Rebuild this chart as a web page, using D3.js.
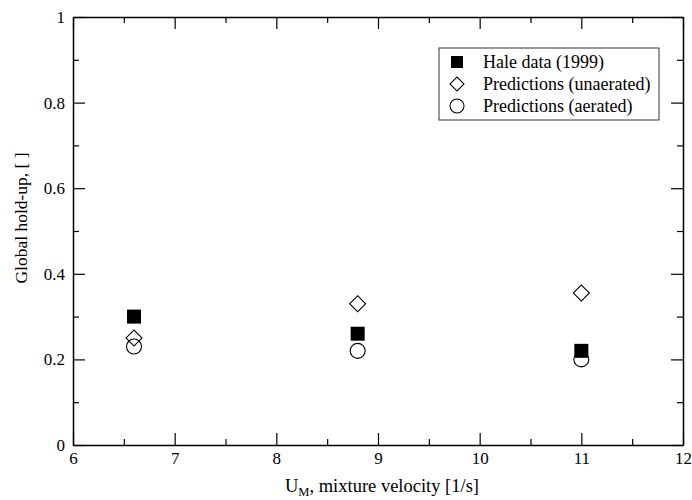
<!DOCTYPE html>
<html>
<head>
<meta charset="utf-8">
<script src="https://cdn.jsdelivr.net/npm/d3@7"></script>
<style>
  body { margin: 0; background: #fff; }
</style>
</head>
<body>
<svg id="chart"></svg>
<script>
// Data
const velocities = [6.6, 8.8, 11];
const haleData = [0.30, 0.26, 0.22];
const predUnaerated = [0.25, 0.33, 0.355];
const predAerated = [0.23, 0.22, 0.20];
const xTicks = [6, 7, 8, 9, 10, 11, 12];
const yTicks = [0, 0.2, 0.4, 0.6, 0.8, 1];
const legendLabels = ['Hale data (1999)', 'Predictions (unaerated)', 'Predictions (aerated)'];

const FONT = '"Liberation Serif", "DejaVu Serif", serif';
const width = 692, height = 500;
const margin = {top: 17, right: 9, bottom: 55, left: 73};
const w = width - margin.left - margin.right;
const h = height - margin.top - margin.bottom;

const svg = d3.select('#chart').attr('width', width).attr('height', height)
  .attr('font-family', FONT);
const chart = svg.append('g').attr('transform', `translate(${margin.left},${margin.top})`);

const x = d3.scaleLinear().domain([6, 12]).range([0, w]);
const y = d3.scaleLinear().domain([0, 1]).range([h, 0]);

// minor ticks every half unit / 0.1
const xMinor = d3.range(6.5, 12, 1);
const yMinor = d3.range(0.1, 1, 0.2);

function tickAxis(axisFn, scale, major, minor, transform, labels) {
  const g = chart.append('g').attr('transform', transform);
  g.call(axisFn(scale).tickValues(major).tickSizeInner(-12).tickSizeOuter(0)
    .tickFormat(labels ? d3.format('') : ''));
  g.append('g').call(axisFn(scale).tickValues(minor).tickSizeInner(-6).tickSizeOuter(0).tickFormat(''))
    .select('.domain').remove();
  g.attr('font-family', FONT);
  g.selectAll('.domain').attr('stroke', '#000').attr('stroke-width', 1.5);
  g.selectAll('.tick line').attr('stroke', '#000').attr('stroke-width', 1.2);
  g.selectAll('.tick text').attr('font-family', FONT).attr('font-size', 17).attr('fill', '#000');
  return g;
}

const xAxisG = tickAxis(d3.axisBottom, x, xTicks, xMinor, `translate(0,${h})`, true);
xAxisG.selectAll('.tick text').attr('dy', '1.05em').attr('y', 1);
tickAxis(d3.axisTop, x, xTicks, xMinor, 'translate(0,0)', false);

const yAxisG = tickAxis(d3.axisLeft, y, yTicks, yMinor, 'translate(0,0)', true);
yAxisG.selectAll('.tick text').attr('x', -8).attr('dy', '0.32em');
tickAxis(d3.axisRight, y, yTicks, yMinor, `translate(${w},0)`, false);

const diamond = d3.symbol().type(d3.symbolSquare).size(128);

// Hale data: filled squares
chart.selectAll('.hale').data(velocities).join('rect')
  .attr('class', 'hale')
  .attr('x', (d) => x(d) - 7).attr('y', (d, i) => y(haleData[i]) - 7)
  .attr('width', 14).attr('height', 14).attr('fill', '#000');

// Unaerated predictions: open diamonds
chart.selectAll('.unaer').data(velocities).join('path')
  .attr('class', 'unaer')
  .attr('d', diamond)
  .attr('transform', (d, i) => `translate(${x(d)},${y(predUnaerated[i])}) rotate(45)`)
  .attr('fill', 'none').attr('stroke', '#000').attr('stroke-width', 1.1);

// Aerated predictions: open circles
chart.selectAll('.aer').data(velocities).join('circle')
  .attr('class', 'aer')
  .attr('cx', (d) => x(d)).attr('cy', (d, i) => y(predAerated[i]))
  .attr('r', 7.5).attr('fill', 'none').attr('stroke', '#000').attr('stroke-width', 1.1);

// Legend
const legend = svg.append('g').attr('transform', 'translate(439,48)');
legend.append('rect').attr('width', 220).attr('height', 72)
  .attr('fill', '#fff').attr('stroke', '#333').attr('stroke-width', 1);
const rowY = [14, 36, 58];
legendLabels.forEach((label, i) => {
  const row = legend.append('g').attr('transform', `translate(18,${rowY[i]})`);
  if (i === 0) row.append('rect').attr('x', -6).attr('y', -6).attr('width', 12).attr('height', 12).attr('fill', '#000');
  if (i === 1) row.append('path').attr('d', d3.symbol().type(d3.symbolSquare).size(98)).attr('transform', 'rotate(45)')
    .attr('fill', 'none').attr('stroke', '#000').attr('stroke-width', 1.1);
  if (i === 2) row.append('circle').attr('r', 7).attr('fill', 'none').attr('stroke', '#000').attr('stroke-width', 1.1);
  row.append('text').attr('x', 26).attr('dy', '0.33em').attr('font-size', 18).text(label);
});

// Axis titles
svg.append('text')
  .attr('transform', `translate(27,218) rotate(-90)`)
  .attr('text-anchor', 'middle').attr('font-size', 17.5)
  .text('Global hold-up, [ ]');

const xTitle = svg.append('text')
  .attr('x', 382).attr('y', 492)
  .attr('text-anchor', 'middle').attr('font-size', 18.5);
xTitle.append('tspan').text('U');
xTitle.append('tspan').attr('font-size', 12.5).attr('dy', 4).text('M');
xTitle.append('tspan').attr('dy', -4).text(', mixture velocity [1/s]');
</script>
</body>
</html>
